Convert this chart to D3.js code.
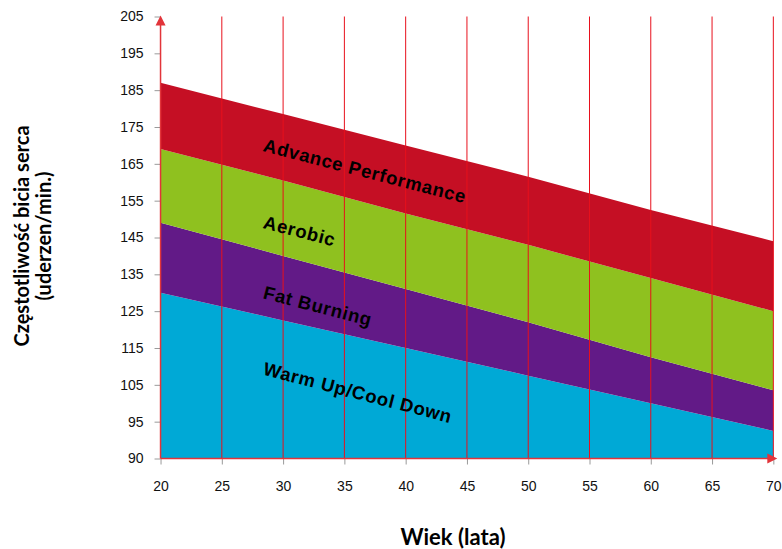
<!DOCTYPE html>
<html>
<head>
<meta charset="utf-8">
<script src="https://cdn.jsdelivr.net/npm/d3@7"></script>
<style>
  html, body { margin: 0; padding: 0; background: #fff; }
  svg { display: block; }
</style>
</head>
<body>
<svg id="chart" width="782" height="549"></svg>
<script>
// Heart-rate training zones by age (upper bound of each zone, beats/min)
const ages = [20, 30, 40, 50, 60, 70];
const warmUpTop   = [130, 122.5, 115, 107.5, 100, 92.5];
const fatBurnTop  = [149, 140, 131, 122, 112.5, 103.5];
const aerobicTop  = [169, 160.5, 151.5, 143, 134, 125];
const advancedTop = [187, 178.5, 170, 161.5, 152.5, 144];

const zoneNames  = ["Warm Up/Cool Down", "Fat Burning", "Aerobic", "Advance Performance"];
const zoneColors = ["#00a9d6", "#621a87", "#8fc11f", "#c50f24"];

const xTicks = [20, 25, 30, 35, 40, 45, 50, 55, 60, 65, 70];
const yTicks = [85, 95, 105, 115, 125, 135, 145, 155, 165, 175, 185, 195, 205];
const yTickLabels = ["90", "95", "105", "115", "125", "135", "145", "155", "165", "175", "185", "195", "205"];

const yTitle = ["Częstotliwość bicia serca", "(uderzen/min.)"];
const xTitle = "Wiek (lata)";

const svg = d3.select("#chart");

const x = d3.scaleLinear().domain([20, 70]).range([160.54, 773.34]);
const y = d3.scaleLinear().domain([85, 205]).range([458.5, 16.5]);

const axisRed = "#e2343a";
const gridRed = "#e8101c";

// zone bands, stacked from the axis floor upward
const bounds = [ages.map(() => 85), warmUpTop, fatBurnTop, aerobicTop, advancedTop];
const area = d3.area()
  .x(d => x(d.age))
  .y0(d => y(d.lo))
  .y1(d => y(d.hi));

zoneNames.forEach((name, i) => {
  const pts = ages.map((a, j) => ({ age: a, lo: bounds[i][j], hi: bounds[i + 1][j] }));
  svg.append("path")
    .datum(pts)
    .attr("d", area)
    .attr("fill", zoneColors[i]);
});

// vertical grid lines every 5 years
svg.append("g")
  .selectAll("line")
  .data(xTicks.slice(1))
  .join("line")
  .attr("x1", d => x(d))
  .attr("x2", d => x(d))
  .attr("y1", y(205))
  .attr("y2", y(85))
  .attr("stroke", gridRed)
  .attr("stroke-width", 1);

// y axis
const yAxis = d3.axisLeft(y)
  .tickValues(yTicks)
  .tickFormat((d, i) => yTickLabels[i])
  .tickSize(6)
  .tickPadding(11);

const gy = svg.append("g")
  .attr("transform", `translate(${x(20)},0)`)
  .call(yAxis);
gy.select(".domain").remove();
gy.selectAll(".tick line").attr("stroke", "#9a9a9a");
gy.selectAll(".tick text")
  .attr("fill", "#111")
  .style("font-family", "'Liberation Sans', Arial, sans-serif")
  .style("font-size", "14px");

// x axis
const xAxis = d3.axisBottom(x)
  .tickValues(xTicks)
  .tickSize(6)
  .tickPadding(17);

const gx = svg.append("g")
  .attr("transform", `translate(0,${y(85)})`)
  .call(xAxis);
gx.select(".domain").remove();
gx.selectAll(".tick line").attr("stroke", "#9a9a9a");
gx.selectAll(".tick text")
  .attr("fill", "#111")
  .style("font-family", "'Liberation Sans', Arial, sans-serif")
  .style("font-size", "14px");

// axis lines with arrow heads
svg.append("line")
  .attr("x1", x(20)).attr("x2", x(20))
  .attr("y1", y(85)).attr("y2", y(205) + 4)
  .attr("stroke", axisRed).attr("stroke-width", 1.5);
svg.append("path")
  .attr("d", `M${x(20)},${y(205) - 1} L${x(20) - 5},${y(205) + 9} L${x(20) + 5},${y(205) + 9} Z`)
  .attr("fill", axisRed);

svg.append("line")
  .attr("x1", x(20)).attr("x2", x(70))
  .attr("y1", y(85)).attr("y2", y(85))
  .attr("stroke", axisRed).attr("stroke-width", 1.5);
svg.append("path")
  .attr("d", `M${x(70) + 4},${y(85)} L${x(70) - 6},${y(85) - 5} L${x(70) - 6},${y(85) + 5} Z`)
  .attr("fill", axisRed);

// zone labels along the bands
const labelAt = [
  { name: zoneNames[3], age: 28.3, v: 83.5 },
  { name: zoneNames[2], age: 28.3, v: 62.6 },
  { name: zoneNames[1], age: 28.3, v: 43.5 },
  { name: zoneNames[0], age: 28.3, v: 22.8 }
];
svg.append("g")
  .selectAll("text")
  .data(labelAt)
  .join("text")
  .attr("transform", d => `translate(${x(d.age)},${y(85 + d.v)}) rotate(14.5)`)
  .text(d => d.name)
  .attr("fill", "#000")
  .style("font-family", "'Liberation Sans', Arial, sans-serif")
  .style("font-weight", "bold")
  .style("font-size", "18.5px")
  .style("letter-spacing", "0.7px");

// axis titles
const titleFont = "Lato, 'Open Sans', sans-serif";
svg.append("g")
  .selectAll("text")
  .data(yTitle)
  .join("text")
  .attr("transform", (d, i) => `translate(${29 + i * 22},236) rotate(-90)`)
  .attr("text-anchor", "middle")
  .text(d => d)
  .style("font-family", titleFont)
  .style("font-weight", "bold")
  .style("font-size", "20px");

svg.append("text")
  .attr("x", 453)
  .attr("y", 545)
  .attr("text-anchor", "middle")
  .text(xTitle)
  .style("font-family", titleFont)
  .style("font-weight", "bold")
  .style("font-size", "22px");
</script>
</body>
</html>
